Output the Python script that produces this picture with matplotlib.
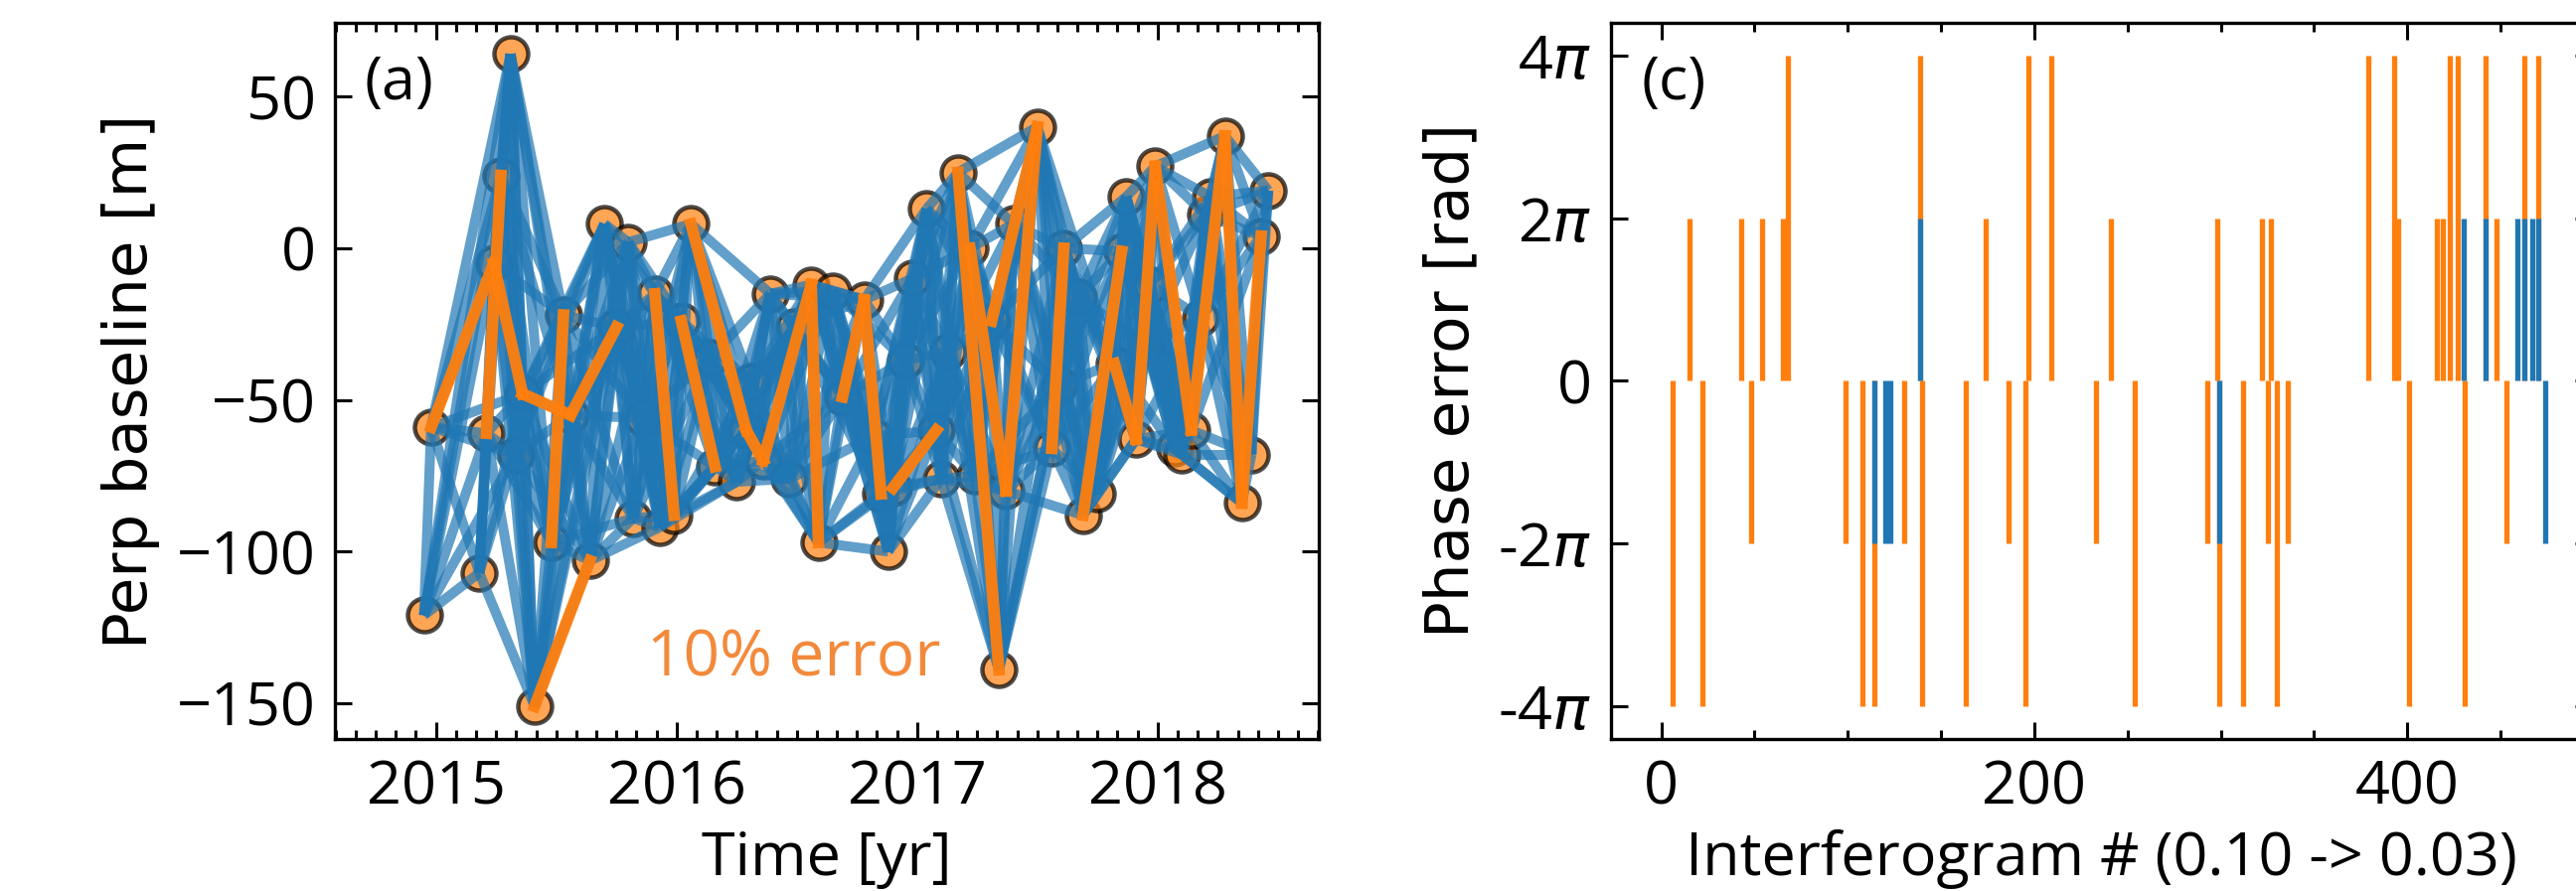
import numpy as np
import matplotlib
matplotlib.use("Agg")
import matplotlib.pyplot as plt
from matplotlib.ticker import MultipleLocator, FixedLocator, FixedFormatter

plt.rcParams["font.family"] = ["Open Sans", "DejaVu Sans"]
plt.rcParams["mathtext.fontset"] = "dejavusans"
plt.rcParams["axes.unicode_minus"] = True

# acquisition dates [decimal year] and perpendicular baselines [m]
acq_time = [
    2014.95, 2014.98, 2015.18, 2015.21, 2015.24, 2015.27, 2015.31, 2015.33,
    2015.36, 2015.41, 2015.48, 2015.53, 2015.56, 2015.64, 2015.70, 2015.75,
    2015.80, 2015.82, 2015.86, 2015.91, 2015.93, 2015.99, 2016.02, 2016.06,
    2016.14, 2016.16, 2016.25, 2016.29, 2016.31, 2016.36, 2016.39, 2016.47,
    2016.49, 2016.56, 2016.59, 2016.65, 2016.69, 2016.78, 2016.82, 2016.85,
    2016.88, 2016.90, 2016.95, 2016.98, 2017.04, 2017.08, 2017.10, 2017.13,
    2017.17, 2017.22, 2017.24, 2017.31, 2017.34, 2017.37, 2017.40, 2017.50,
    2017.56, 2017.59, 2017.61, 2017.67, 2017.69, 2017.75, 2017.82, 2017.85,
    2017.87, 2017.91, 2017.95, 2017.97, 2017.99, 2018.07, 2018.10, 2018.14,
    2018.18, 2018.20, 2018.22, 2018.28, 2018.35, 2018.39, 2018.43, 2018.46,
]
acq_bperp = [
    -121, -59, -107, -61, -5, 24, 64, -68,
    -48, -151, -97, -22, -55, -103, 8, -26,
    2, -89, -56, -15, -92, -88, -24, 8,
    -36, -72, -77, -60, -44, -70, -15, -76,
    -26, -12, -97, -14, -49, -17, -62, -81,
    -100, -79, -37, -10, 13, -60, -76, -34,
    25, 0, -75, -24, -139, -80, 8, 40,
    -66, -45, 0, -16, -88, -81, -38, -1,
    17, -63, -32, -12, 27, -66, -68, -60,
    -23, 11, 17, 37, -84, -68, 4, 19,
]

# each acquisition is paired with its next few neighbours in time
n_neighbours = 7

# interferograms carrying the simulated unwrapping error (indices into acquisitions)
error_pairs = [
    (1, 4), (4, 8), (8, 12), (3, 5), (10, 11), (12, 15), (9, 13),
    (19, 21), (22, 25), (23, 27), (27, 29), (29, 33), (33, 34),
    (36, 37), (37, 39), (41, 45), (48, 52), (49, 53), (53, 55),
    (51, 55), (56, 58), (60, 63), (62, 65), (65, 68), (68, 71),
    (71, 75), (75, 76), (76, 78),
]

# phase errors per interferogram, in multiples of 2*pi
err_ifg = [
    6, 15, 22, 43, 48, 54, 65, 68, 99, 108, 114, 130, 139, 140, 163,
    174, 186, 195, 197, 209, 233, 241, 254, 293, 298, 299, 312, 322,
    325, 327, 330, 336, 379, 393, 395, 401, 416, 419, 423, 427, 431,
    442, 448, 453, 463, 470,
]
err_cycles = [
    -2, 1, -2, 1, -1, 1, 1, 2, -1, -2, -2, -1, 2, -2, -2,
    1, -1, -2, 2, 2, -1, 1, -2, -1, 1, -2, -2, 1,
    -1, 1, -2, -1, 2, 2, 1, -2, 1, 1, 2, 2, -2,
    2, 1, -1, 2, 2,
]
# errors left after correction, in multiples of 2*pi
res_ifg = [114, 120, 123, 139, 299, 430, 442, 459, 463, 467, 470, 474]
res_cycles = [-1, -1, -1, 1, -1, 1, 1, 1, 1, 1, 1, -1]

blue = "#1f77b4"
orange = "#ff7f0e"

fig = plt.figure(figsize=(12.96, 4.485), dpi=200)
W, H = 2592, 897
ax1 = fig.add_axes([337 / W, 1 - 744 / H, (1327 - 337) / W, (744 - 23) / H])
ax2 = fig.add_axes([1621 / W, 1 - 744 / H, (2608 - 1621) / W, (744 - 23) / H])

# ---- (a) baseline network ----
t = np.array(acq_time)
b = np.array(acq_bperp)
n = len(t)
ax1.scatter(t, b, s=150, facecolor=orange, edgecolor="k", linewidth=1.6,
            alpha=0.7, zorder=1)
for i in range(n):
    for j in range(i + 1, min(i + 1 + n_neighbours, n)):
        ax1.plot([t[i], t[j]], [b[i], b[j]], color=blue, lw=3.6, alpha=0.7,
                 solid_capstyle="butt", zorder=2)
for i, j in error_pairs:
    ax1.plot([t[i], t[j]], [b[i], b[j]], color=orange, lw=4.2, alpha=0.95,
             zorder=3)

ax1.set_xlim(2014.58, 2018.67)
ax1.set_ylim(-161.8, 74.3)
ax1.xaxis.set_major_locator(MultipleLocator(1))
ax1.xaxis.set_minor_locator(MultipleLocator(1 / 12))
ax1.xaxis.set_major_formatter(plt.FuncFormatter(lambda v, p: f"{v:.0f}"))
ax1.yaxis.set_major_locator(MultipleLocator(50))
ax1.set_xlabel("Time [yr]", fontsize=22, labelpad=4)
ax1.set_ylabel("Perp baseline [m]", fontsize=22, family="DejaVu Sans",
               labelpad=6)
ax1.text(0.03, 0.915, "(a)", transform=ax1.transAxes, fontsize=22,
         va="center", ha="left")
ax1.text(0.466, 0.112, "10% error", transform=ax1.transAxes, fontsize=23,
         color="#f28a3c", va="center", ha="center")

# ---- (c) phase error per interferogram ----
two_pi = 2 * np.pi
ax2.vlines(err_ifg, 0, np.array(err_cycles) * two_pi, color=orange, lw=1.9)
ax2.vlines(res_ifg, 0, np.array(res_cycles) * two_pi, color=blue, lw=1.9)
ax2.set_xlim(-27, 499)
ax2.set_ylim(-4.4 * np.pi, 4.4 * np.pi)
ax2.xaxis.set_major_locator(MultipleLocator(200))
ax2.xaxis.set_minor_locator(MultipleLocator(50))
ax2.yaxis.set_major_locator(FixedLocator([-4 * np.pi, -2 * np.pi, 0,
                                          2 * np.pi, 4 * np.pi]))
ax2.yaxis.set_major_formatter(FixedFormatter(
    ["-4$\\pi$", "-2$\\pi$", "0", "2$\\pi$", "4$\\pi$"]))
ax2.set_xlabel("Interferogram # (0.10 -> 0.03)", fontsize=22, labelpad=4)
ax2.set_ylabel("Phase error [rad]", fontsize=22, family="DejaVu Sans",
               labelpad=6)
ax2.text(31 / (2608 - 1621), 0.915, "(c)", transform=ax2.transAxes,
         fontsize=22, va="center", ha="left")

for ax in (ax1, ax2):
    ax.tick_params(which="both", direction="in", top=True, right=True,
                   labelsize=22, width=1.1, pad=7)
    ax.tick_params(which="major", length=6)
    ax.tick_params(which="minor", length=3.2)
    for sp in ax.spines.values():
        sp.set_linewidth(1.2)

fig.savefig("out.png", dpi=200)
